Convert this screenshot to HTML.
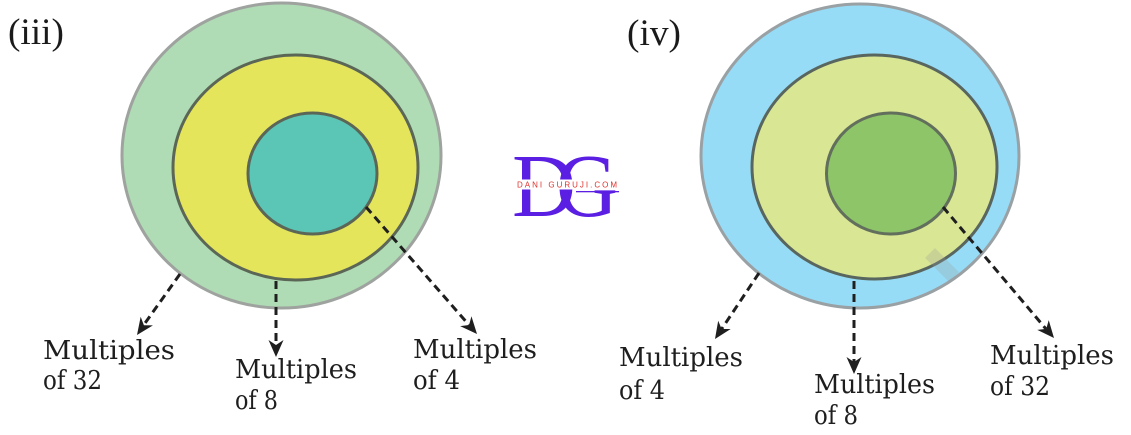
<!DOCTYPE html>
<html>
<head>
<meta charset="utf-8">
<style>
  html, body { margin: 0; padding: 0; background: #ffffff; }
  body { width: 1131px; height: 435px; overflow: hidden; }
  svg { display: block; }
  .lbl { font-family: "DejaVu Serif", "Liberation Serif", serif; font-size: 26px; fill: #1e1e1e; }
  .ttl { font-family: "Liberation Serif", serif; font-size: 37px; fill: #1a1a1a; }
</style>
</head>
<body>
<svg width="1131" height="435" viewBox="0 0 1131 435" xmlns="http://www.w3.org/2000/svg">
  <rect x="0" y="0" width="1131" height="435" fill="#ffffff"/>

  <!-- Titles -->
  <text class="ttl" x="8" y="44" textLength="56" lengthAdjust="spacingAndGlyphs">(iii)</text>
  <text class="ttl" x="627" y="45" textLength="54" lengthAdjust="spacingAndGlyphs">(iv)</text>

  <!-- Diagram (iii) -->
  <ellipse cx="281.5" cy="155.5" rx="159.5" ry="152.5" fill="#afdcb4" stroke="#9fa39f" stroke-width="3"/>
  <ellipse cx="295.5" cy="167.5" rx="122.5" ry="112.5" fill="#e4e55b" stroke="#5b6657" stroke-width="3"/>
  <ellipse cx="312.5" cy="173.5" rx="64.5" ry="60.5" fill="#5bc6b6" stroke="#5b6657" stroke-width="3"/>

  <!-- Diagram (iv) -->
  <ellipse cx="860" cy="156" rx="159" ry="152" fill="#97dcf6" stroke="#9aa1a4" stroke-width="3"/>
  <ellipse cx="874.5" cy="167" rx="122.5" ry="112" fill="#d9e694" stroke="#58665f" stroke-width="3"/>
  <ellipse cx="891" cy="173.5" rx="64.5" ry="60.5" fill="#8ec568" stroke="#626f5c" stroke-width="3"/>

  <!-- faint watermark artifact -->
  <g opacity="0.25">
    <rect x="935" y="248" width="14" height="34" fill="#9a9a9a" transform="rotate(-45 942 265)"/>
  </g>

  <!-- Dashed connectors -->
  <g stroke="#1f1f1f" stroke-width="3" stroke-dasharray="8 5" fill="none">
    <line x1="180" y1="274" x2="143" y2="326"/>
    <line x1="276" y1="281" x2="276" y2="346"/>
    <line x1="366" y1="207" x2="469" y2="325"/>
    <line x1="759" y1="273" x2="721" y2="330"/>
    <line x1="854" y1="281" x2="854" y2="363"/>
    <line x1="943" y1="207" x2="1046" y2="329"/>
  </g>

  <!-- Arrowheads -->
  <g fill="#1f1f1f">
    <path d="M0,0 L-17,-7.5 L-12,0 L-17,7.5 Z" transform="translate(137,335) rotate(125.2)"/>
    <path d="M0,0 L-17,-7.5 L-12,0 L-17,7.5 Z" transform="translate(276,357) rotate(90)"/>
    <path d="M0,0 L-17,-7.5 L-12,0 L-17,7.5 Z" transform="translate(477,334) rotate(48.8)"/>
    <path d="M0,0 L-17,-7.5 L-12,0 L-17,7.5 Z" transform="translate(715,339) rotate(123.7)"/>
    <path d="M0,0 L-17,-7.5 L-12,0 L-17,7.5 Z" transform="translate(854,374) rotate(90)"/>
    <path d="M0,0 L-17,-7.5 L-12,0 L-17,7.5 Z" transform="translate(1054,338) rotate(49.7)"/>
  </g>

  <!-- Labels (iii) -->
  <text class="lbl" x="43" y="359" textLength="132" lengthAdjust="spacingAndGlyphs">Multiples</text>
  <text class="lbl" x="43" y="389" textLength="59" lengthAdjust="spacingAndGlyphs">of 32</text>

  <text class="lbl" x="235" y="378" textLength="122" lengthAdjust="spacingAndGlyphs">Multiples</text>
  <text class="lbl" x="235" y="409" textLength="43" lengthAdjust="spacingAndGlyphs">of 8</text>

  <text class="lbl" x="413" y="358" textLength="124" lengthAdjust="spacingAndGlyphs">Multiples</text>
  <text class="lbl" x="413" y="389" textLength="47" lengthAdjust="spacingAndGlyphs">of 4</text>

  <!-- Labels (iv) -->
  <text class="lbl" x="619" y="366" textLength="124" lengthAdjust="spacingAndGlyphs">Multiples</text>
  <text class="lbl" x="619" y="399" textLength="46" lengthAdjust="spacingAndGlyphs">of 4</text>

  <text class="lbl" x="814" y="393" textLength="121" lengthAdjust="spacingAndGlyphs">Multiples</text>
  <text class="lbl" x="814" y="424" textLength="44" lengthAdjust="spacingAndGlyphs">of 8</text>

  <text class="lbl" x="990" y="364" textLength="124" lengthAdjust="spacingAndGlyphs">Multiples</text>
  <text class="lbl" x="990" y="395" textLength="60" lengthAdjust="spacingAndGlyphs">of 32</text>

  <!-- Logo DG -->
  <g>
    <text x="512" y="216" font-family="Liberation Serif, serif" font-size="90" fill="#5a1fe3" textLength="64" lengthAdjust="spacingAndGlyphs">D</text>
    <text x="556" y="216" font-family="Liberation Serif, serif" font-size="90" fill="#5a1fe3" textLength="62" lengthAdjust="spacingAndGlyphs">G</text>
    <rect x="514" y="179.5" width="105" height="10" fill="#ffffff"/>
    <text x="517" y="187.5" font-family="Liberation Sans, sans-serif" font-size="8" fill="#e0322b" textLength="100" lengthAdjust="spacing">DANI GURUJI.COM</text>
    <rect x="576" y="191" width="43" height="1.3" fill="#5a1fe3"/>
  </g>
</svg>
</body>
</html>
